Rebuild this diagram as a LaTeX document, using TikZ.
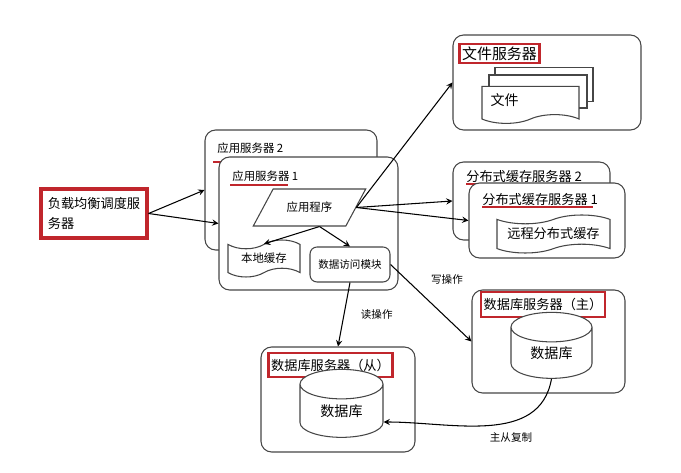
\documentclass[tikz,border=0pt]{standalone}
\usepackage{fontspec}
\setmainfont{Noto Sans CJK SC}
\usepackage{xcolor}
\usepackage{tikz}
\usetikzlibrary{shapes.geometric,shapes.symbols,arrows,positioning,calc}

\definecolor{markred}{RGB}{192,38,44}
\definecolor{linegray}{RGB}{70,70,70}

\begin{document}
\begin{tikzpicture}[
    x=0.02cm, y=-0.02cm,
    box/.style={draw=linegray, rounded corners=6pt, fill=white, line width=0.6pt, inner sep=0pt},
    tag/.style={draw=markred, line width=1.6pt, inner sep=1.5pt, font=\fontsize{8}{9}\selectfont},
    lbl/.style={anchor=west, inner sep=0pt, font=\fontsize{6.5}{8}\selectfont},
    redline/.style={draw=markred, line width=1.3pt},
    tapebox/.style={tape, draw=linegray, fill=white, line width=0.6pt, inner sep=0pt},
    sheet/.style={rectangle, draw=linegray, fill=white, line width=0.6pt, inner sep=0pt},
    db/.style={cylinder, shape border rotate=90, aspect=0.7, draw=linegray, fill=white, line width=0.6pt, inner sep=0pt, font=\fontsize{8}{9}\selectfont},
    arrow/.style={->, >=stealth, line width=0.6pt}
]
\useasboundingbox (0,0) rectangle (681,473);

% load balancer
\node[draw=markred, line width=1.8pt, minimum width=2.12cm, minimum height=0.98cm, align=left,
      font=\fontsize{7.5}{11}\selectfont] (lb) at (94,213.5) {负载均衡调度服\\务器};

% application servers
\node[box, minimum width=3.44cm, minimum height=2.4cm] (app2) at (291,190) {};
\node[lbl] (app2lbl) at (217,148) {应用服务器 2};
\draw[redline] (213,162) -- (273,162);
\node[box, minimum width=3.58cm, minimum height=2.66cm] (app1) at (308.5,223.5) {};
\node[lbl] (app1lbl) at (232,176) {应用服务器 1};
\draw[redline] (230,185) -- (288,185);

\node[trapezium, trapezium left angle=55, trapezium right angle=125, trapezium stretches=true,
      draw=linegray, line width=0.6pt, minimum width=2.26cm, minimum height=0.74cm,
      font=\fontsize{6.5}{8}\selectfont] (prog) at (309.5,207.5) {应用程序};
\coordinate (progout) at ($(prog.south)+(10,0)$);
\node[tapebox, minimum width=1.44cm, minimum height=0.74cm, font=\fontsize{6.5}{8}\selectfont] (cache) at (264,258.5) {本地缓存};
\node[box, rounded corners=4pt, minimum width=1.6cm, minimum height=0.7cm, font=\fontsize{6}{8}\selectfont] (dao) at (350,264.5) {数据访问模块};

% file server
\node[box, minimum width=3.76cm, minimum height=1.9cm] (files) at (547,82.5) {};
\node[tag, minimum width=1.58cm, minimum height=0.38cm, font=\fontsize{8.5}{10}\selectfont] (fileslbl) at (499.5,53.5) {文件服务器};
\node[sheet, minimum width=1.96cm, minimum height=0.68cm] (doc3) at (544,84.5) {};
\node[sheet, minimum width=1.96cm, minimum height=0.66cm] (doc2) at (538,91.5) {};
\node[tapebox, tape bend top=none, minimum width=1.94cm, minimum height=0.74cm,
      text width=1.6cm, align=left, font=\fontsize{8}{9}\selectfont] (doc1) at (530.5,100.5) {文件};

% distributed cache servers
\node[box, minimum width=3.14cm, minimum height=1.56cm] (dc2) at (531.5,201) {};
\node[lbl, font=\fontsize{7.5}{9}\selectfont] (dc2lbl) at (466,177) {分布式缓存服务器 2};
\draw[redline] (466,184) -- (577,184);
\node[box, minimum width=3.12cm, minimum height=1.5cm] (dc1) at (547,220.5) {};
\node[lbl, font=\fontsize{7.5}{9}\selectfont] (dc1lbl) at (482,200) {分布式缓存服务器 1};
\draw[redline] (482,207) -- (593,207);
\node[tapebox, minimum width=2.26cm, minimum height=0.76cm, font=\fontsize{7.5}{9}\selectfont] (remote) at (553.5,234) {远程分布式缓存};

% database servers
\node[box, minimum width=3.06cm, minimum height=2.06cm] (master) at (548.5,341.5) {};
\node[tag, minimum width=2.4cm, minimum height=0.5cm, font=\fontsize{7.5}{9}\selectfont] (masterlbl) at (543,304.5) {数据库服务器（主）};
\node[db, minimum width=1.62cm, minimum height=1.32cm] (mdb) at (551.5,353) {数据库};

\node[box, minimum width=3.08cm, minimum height=2.1cm] (slave) at (338,399.5) {};
\node[tag, minimum width=2.46cm, minimum height=0.48cm, font=\fontsize{7.5}{9}\selectfont] (slavelbl) at (330.5,365) {数据库服务器（从）};
\node[db, minimum width=1.66cm, minimum height=1.36cm] (sdb) at (341.5,411) {数据库};

% connectors
\draw[arrow] (lb.east) -- (app2.west);
\draw[arrow] (lb.east) -- (app1.west);
\draw[arrow] (progout) -- (cache.north);
\draw[arrow] (progout) -- (dao.north);
\draw[arrow] (prog.east) -- (files.west);
\draw[arrow] (prog.east) -- (dc2.west);
\draw[arrow] (prog.east) -- (dc1.west);
\draw[arrow] (dao.south) -- node[right=6pt, font=\fontsize{6}{8}\selectfont] {读操作} (slave.north);
\draw[arrow] (dao.east) -- (master.west);
\node[font=\fontsize{6}{8}\selectfont] (writelbl) at (447,280) {写操作};
\draw[arrow] (mdb.south) to[out=-100, in=0] ([yshift=-0.22cm]sdb.east);
\node[font=\fontsize{6}{8}\selectfont] (repllbl) at (511,437) {主从复制};
\end{tikzpicture}
\end{document}
